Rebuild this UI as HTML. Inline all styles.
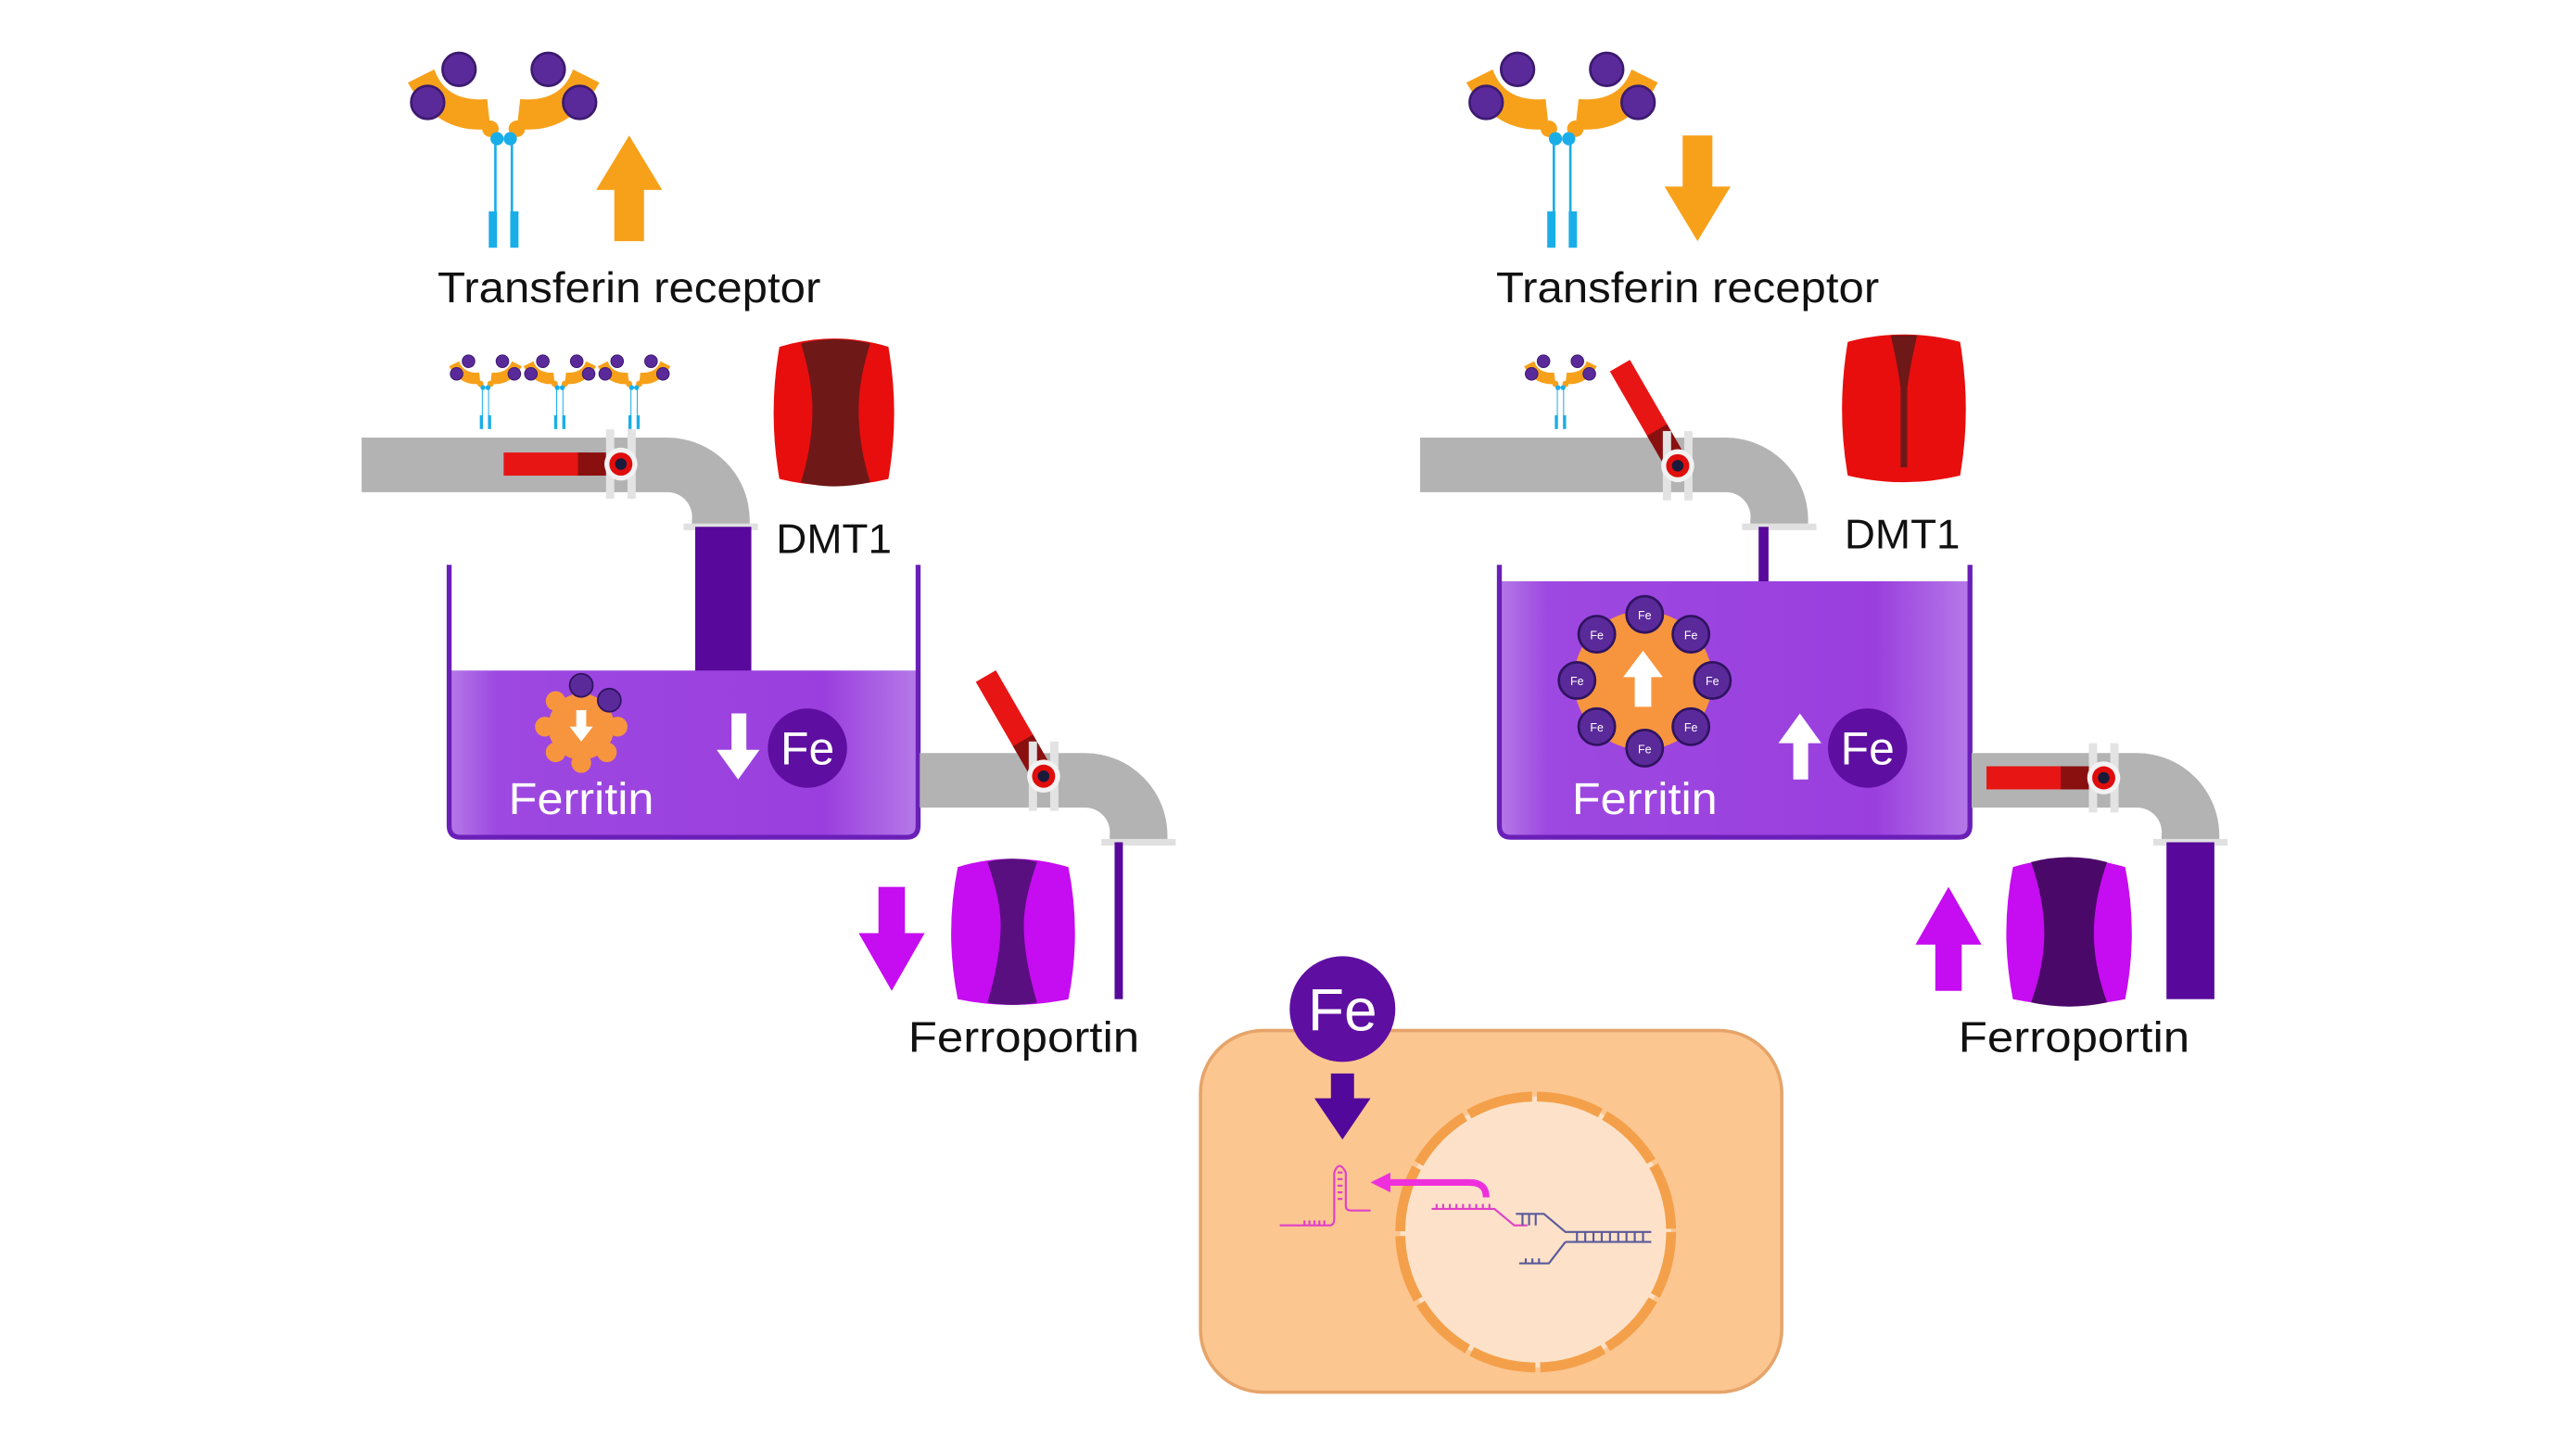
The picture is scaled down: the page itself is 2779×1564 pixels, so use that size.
<!DOCTYPE html>
<html><head><meta charset="utf-8"><style>
html,body{margin:0;padding:0;background:#fff}
svg{display:block}
text{font-family:"Liberation Sans",sans-serif}
</style></head><body>
<svg width="2779" height="1564" viewBox="0 0 1560 878" preserveAspectRatio="none" xmlns="http://www.w3.org/2000/svg">
<defs>
  <linearGradient id="liq" x1="0" x2="1" y1="0" y2="0">
    <stop offset="0" stop-color="#b57ae8"/><stop offset="0.1" stop-color="#9d48e0"/><stop offset="0.8" stop-color="#9a3fde"/><stop offset="1" stop-color="#b57ae8"/>
  </linearGradient>
  <g id="tfpair">
    <path d="M-58,-40 Q-40,-8 -8,-12 L-10,-30 Q-35,-28 -42,-48 Z" fill="#f7a11a"/>
    <circle cx="-46" cy="-28" r="10" fill="#5b2a9a" stroke="#3c1a70" stroke-width="1.5"/>
    <circle cx="-27" cy="-48" r="10" fill="#5b2a9a" stroke="#3c1a70" stroke-width="1.5"/>
    <circle cx="-8" cy="-12" r="5" fill="#f7a11a"/>
    <path d="M58,-40 Q40,-8 8,-12 L10,-30 Q35,-28 42,-48 Z" fill="#f7a11a"/>
    <circle cx="46" cy="-28" r="10" fill="#5b2a9a" stroke="#3c1a70" stroke-width="1.5"/>
    <circle cx="27" cy="-48" r="10" fill="#5b2a9a" stroke="#3c1a70" stroke-width="1.5"/>
    <circle cx="8" cy="-12" r="5" fill="#f7a11a"/>
    <circle cx="-4" cy="-6" r="4" fill="#1aaee8"/><circle cx="4" cy="-6" r="4" fill="#1aaee8"/>
    <line x1="-5" y1="-4" x2="-5" y2="45" stroke="#1aaee8" stroke-width="1.5"/>
    <line x1="5" y1="-4" x2="5" y2="45" stroke="#1aaee8" stroke-width="1.5"/>
    <rect x="-9" y="38" width="5" height="22" fill="#1aaee8"/>
    <rect x="4" y="38" width="5" height="22" fill="#1aaee8"/>
  </g>
  <g id="pipe">
    <path d="M0,0 L185,0 A50,50 0 0 1 235,50 L235,53 L200,53 L200,50 A15,15 0 0 0 185,33 L0,33 Z" fill="#b3b3b3"/>
    <rect x="195" y="52" width="45" height="4" fill="#e0e0e0"/>
  </g>
  <g id="opipe">
    <path d="M0,0 L100,0 A50,50 0 0 1 150,50 L150,53 L115,53 L115,50 A15,15 0 0 0 100,33 L0,33 Z" fill="#b3b3b3"/>
    <rect x="110" y="52" width="45" height="4" fill="#e0e0e0"/>
  </g>
  <g id="valve">
    <rect x="-9" y="-21" width="5" height="42" fill="#e3e3e3"/>
    <rect x="4" y="-21" width="5" height="42" fill="#e3e3e3"/>
    <circle cx="0" cy="0" r="10" fill="#f2f2f2"/>
    <circle cx="0" cy="0" r="7" fill="#e00d0d"/>
    <circle cx="0" cy="0" r="3.5" fill="#1a1a3a"/>
  </g>
</defs>

<!-- ================= LEFT PANEL ================= -->
<use href="#tfpair" x="305" y="90"/>
<path d="M372,146 L390,146 L390,115 L401,115 L381,82 L361,115 L372,115 Z" fill="#f7a11a"/>
<text x="265" y="183" font-size="26" fill="#111" textLength="232" lengthAdjust="spacingAndGlyphs">Transferin receptor</text>

<g transform="translate(294,237) scale(0.38)"><use href="#tfpair"/></g>
<g transform="translate(339,237) scale(0.38)"><use href="#tfpair"/></g>
<g transform="translate(384,237) scale(0.38)"><use href="#tfpair"/></g>

<g transform="translate(219,265)"><use href="#pipe"/></g>
<rect x="305" y="274" width="50" height="14" fill="#e81515"/>
<rect x="350" y="274" width="22" height="14" fill="#8a1010"/>
<use href="#valve" x="376" y="281"/>

<path d="M472,210 Q505,200 538,210 Q545,250 538,290 Q505,298 472,290 Q465,250 472,210 Z" fill="#e80e0e"/>
<path d="M485,208 Q505,203 527,208 Q520,230 520,248 Q520,270 527,292 Q505,297 485,292 Q492,270 492,248 Q492,230 485,208 Z" fill="#6e1818"/>
<text x="470" y="335" font-size="25" fill="#111" textLength="70" lengthAdjust="spacingAndGlyphs">DMT1</text>

<!-- left tank -->
<rect x="421" y="319" width="34" height="88" fill="#58099b"/>
<path d="M272,406 L556,406 L556,500 Q556,507 549,507 L279,507 Q272,507 272,500 Z" fill="url(#liq)"/>
<path d="M272,342 L272,500 Q272,507 279,507 L549,507 Q556,507 556,500 L556,342" fill="none" stroke="#6a1fb8" stroke-width="3"/>
<g transform="translate(352,440)" fill="#f7953e">
  <circle r="20"/>
  <circle cx="0" cy="-22" r="6"/><circle cx="0" cy="22" r="6"/><circle cx="22" cy="0" r="6"/><circle cx="-22" cy="0" r="6"/>
  <circle cx="15.5" cy="15.5" r="6"/><circle cx="-15.5" cy="15.5" r="6"/><circle cx="15.5" cy="-15.5" r="6"/><circle cx="-15.5" cy="-15.5" r="6"/>
  <path d="M-3,-10 L3,-10 L3,0 L7,0 L0,9 L-7,0 L-3,0 Z" fill="#fff"/>
</g>
<circle cx="352" cy="415" r="7" fill="#5b2a9a" stroke="#2f1360"/>
<circle cx="369" cy="424" r="7" fill="#5b2a9a" stroke="#2f1360"/>
<text x="308" y="493" font-size="27" fill="#fff" textLength="88" lengthAdjust="spacingAndGlyphs">Ferritin</text>
<path d="M443,432 L452,432 L452,454 L460,454 L447,472 L434,454 L443,454 Z" fill="#fff"/>
<circle cx="489" cy="453" r="24" fill="#5e0ea0"/>
<text x="489" y="463" font-size="28" fill="#fff" text-anchor="middle">Fe</text>

<!-- left outlet pipe -->
<g transform="translate(557,456)"><use href="#opipe"/></g>
<g transform="rotate(-30 632 470)">
  <rect x="625" y="400" width="14" height="50" fill="#e81515"/>
  <rect x="625" y="445" width="14" height="22" fill="#8a1010"/>
</g>
<use href="#valve" x="632" y="470"/>
<rect x="675" y="510" width="5" height="95" fill="#58099b"/>
<path d="M532,537 L548,537 L548,565 L560,565 L540,600 L520,565 L532,565 Z" fill="#c60cf0"/>
<path d="M580,525 Q613,515 647,525 Q655,565 647,605 Q613,612 580,605 Q572,565 580,525 Z" fill="#c60cf0"/>
<path d="M598,522 Q613,518 628,522 Q620,545 620,560 Q620,580 628,607 Q613,610 598,607 Q606,580 606,560 Q606,545 598,522 Z" fill="#5a0f80"/>
<text x="550" y="637" font-size="26" fill="#111" textLength="140" lengthAdjust="spacingAndGlyphs">Ferroportin</text>

<!-- ================= RIGHT PANEL ================= -->
<use href="#tfpair" x="946" y="90"/>
<path d="M1019,82 L1037,82 L1037,113 L1048,113 L1028,146 L1008,113 L1019,113 Z" fill="#f7a11a"/>
<text x="906" y="183" font-size="26" fill="#111" textLength="232" lengthAdjust="spacingAndGlyphs">Transferin receptor</text>
<g transform="translate(945,237) scale(0.38)"><use href="#tfpair"/></g>

<g transform="translate(860,265)"><use href="#pipe"/></g>
<g transform="rotate(-30 1016 282)">
  <rect x="1009" y="212" width="14" height="50" fill="#e81515"/>
  <rect x="1009" y="257" width="14" height="22" fill="#8a1010"/>
</g>
<use href="#valve" x="1016" y="282"/>

<path d="M1119,207 Q1153,198 1187,207 Q1194,248 1187,288 Q1153,296 1119,288 Q1112,248 1119,207 Z" fill="#e80e0e"/>
<path d="M1145,203 L1161,203 Q1157,220 1155,235 L1155,283 L1151,283 L1151,235 Q1149,220 1145,203 Z" fill="#6e1818"/>
<text x="1117" y="332" font-size="25" fill="#111" textLength="70" lengthAdjust="spacingAndGlyphs">DMT1</text>

<rect x="1065" y="319" width="6" height="35" fill="#58099b"/>
<path d="M908,352 L1193,352 L1193,500 Q1193,507 1186,507 L915,507 Q908,507 908,500 Z" fill="url(#liq)"/>
<path d="M908,342 L908,500 Q908,507 915,507 L1186,507 Q1193,507 1193,500 L1193,342" fill="none" stroke="#6a1fb8" stroke-width="3"/>
<circle cx="995" cy="412" r="42" fill="#f7953e"/>
<path d="M990,428 L1000,428 L1000,410 L1007,410 L995,394 L983,410 L990,410 Z" fill="#fff"/>
<g font-size="7" fill="#fff" text-anchor="middle">
<circle cx="996" cy="372" r="11" fill="#5b2a9a" stroke="#2f1360" stroke-width="1.5"/><text x="996" y="375">Fe</text>
<circle cx="1024" cy="384" r="11" fill="#5b2a9a" stroke="#2f1360" stroke-width="1.5"/><text x="1024" y="387">Fe</text>
<circle cx="1037" cy="412" r="11" fill="#5b2a9a" stroke="#2f1360" stroke-width="1.5"/><text x="1037" y="415">Fe</text>
<circle cx="1024" cy="440" r="11" fill="#5b2a9a" stroke="#2f1360" stroke-width="1.5"/><text x="1024" y="443">Fe</text>
<circle cx="996" cy="453" r="11" fill="#5b2a9a" stroke="#2f1360" stroke-width="1.5"/><text x="996" y="456">Fe</text>
<circle cx="967" cy="440" r="11" fill="#5b2a9a" stroke="#2f1360" stroke-width="1.5"/><text x="967" y="443">Fe</text>
<circle cx="955" cy="412" r="11" fill="#5b2a9a" stroke="#2f1360" stroke-width="1.5"/><text x="955" y="415">Fe</text>
<circle cx="967" cy="384" r="11" fill="#5b2a9a" stroke="#2f1360" stroke-width="1.5"/><text x="967" y="387">Fe</text>
</g>
<text x="952" y="493" font-size="27" fill="#fff" textLength="88" lengthAdjust="spacingAndGlyphs">Ferritin</text>
<path d="M1086,472 L1095,472 L1095,450 L1103,450 L1090,432 L1077,450 L1086,450 Z" fill="#fff"/>
<circle cx="1131" cy="453" r="24" fill="#5e0ea0"/>
<text x="1131" y="463" font-size="28" fill="#fff" text-anchor="middle">Fe</text>

<!-- right outlet pipe -->
<g transform="translate(1194,456)"><use href="#opipe"/></g>
<rect x="1203" y="464" width="50" height="14" fill="#e81515"/>
<rect x="1248" y="464" width="22" height="14" fill="#8a1010"/>
<use href="#valve" x="1274" y="471"/>
<rect x="1312" y="510" width="29" height="95" fill="#58099b"/>
<path d="M1172,600 L1188,600 L1188,572 L1200,572 L1180,537 L1160,572 L1172,572 Z" fill="#c60cf0"/>
<path d="M1219,525 Q1253,515 1287,525 Q1295,565 1287,605 Q1253,612 1219,605 Q1211,565 1219,525 Z" fill="#c60cf0"/>
<path d="M1230,522 Q1253,516 1276,522 Q1268,545 1268,565 Q1268,585 1276,607 Q1253,612 1230,607 Q1238,585 1238,565 Q1238,545 1230,522 Z" fill="#4a0868"/>
<text x="1186" y="637" font-size="26" fill="#111" textLength="140" lengthAdjust="spacingAndGlyphs">Ferroportin</text>

<!-- ================= CELL ================= -->
<rect x="727" y="624" width="352" height="219" rx="38" fill="#fcc690" stroke="#e6a46a" stroke-width="2"/>
<circle cx="930" cy="746" r="82" fill="#fde2c9" stroke="#f4a04a" stroke-width="6" stroke-dasharray="40 3"/>
<circle cx="813" cy="611" r="32" fill="#5e0ea0"/>
<text x="813" y="624" font-size="36" fill="#fff" text-anchor="middle">Fe</text>
<path d="M806,650 L820,650 L820,665 L830,665 L813,690 L796,665 L806,665 Z" fill="#52089a"/>
<g stroke="#e040c8" stroke-width="1.2" fill="none">
  <path d="M775,742 L805,742 Q808,742 808,738 L808,710 Q811,702 815,710 L815,730 Q815,733 818,733 L830,733"/>
  <path d="M810,710 L813,710 M810,714 L813,714 M810,718 L813,718 M810,722 L813,722 M810,726 L813,726"/>
  <path d="M790,742 L790,739 M793,742 L793,739 M796,742 L796,739 M799,742 L799,739 M802,742 L802,739"/>
</g>
<path d="M900,725 Q900,716 890,716 L838,716" stroke="#ee30dc" stroke-width="4" fill="none"/>
<path d="M830,716 L842,710 L842,722 Z" fill="#ee30dc"/>
<g stroke="#e040c8" stroke-width="1.2" fill="none">
  <path d="M867,732 L905,732 L917,742 L925,742"/>
  <path d="M870,732 v-3 M874,732 v-3 M878,732 v-3 M882,732 v-3 M886,732 v-3 M890,732 v-3 M894,732 v-3 M898,732 v-3 M902,732 v-3"/>
</g>
<g stroke="#5a5a9a" stroke-width="1.2" fill="none">
  <path d="M918,735 L935,735 L948,746 L1000,746"/>
  <path d="M948,752 L1000,752"/>
  <path d="M920,765 L938,765 L948,752"/>
  <path d="M955,746 v6 M960,746 v6 M965,746 v6 M970,746 v6 M975,746 v6 M980,746 v6 M985,746 v6 M990,746 v6 M995,746 v6"/>
  <path d="M922,735 v7 M926,735 v7 M930,735 v7"/>
  <path d="M924,765 v-3 M928,765 v-3 M932,765 v-3"/>
</g>
</svg>
</body></html>
